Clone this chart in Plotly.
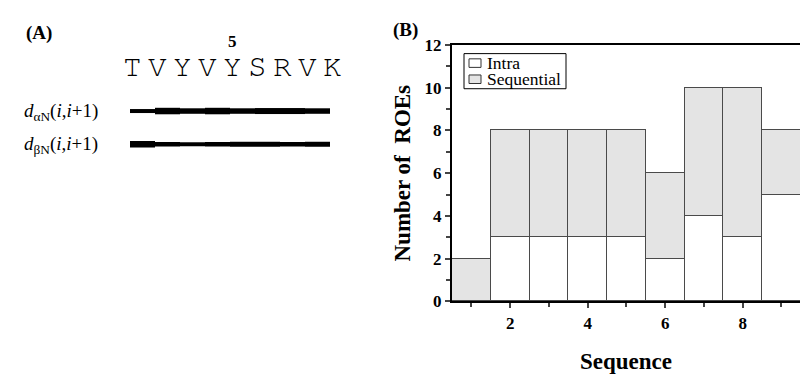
import plotly.graph_objects as go

# ---------------- data ----------------
# Panel A: peptide sequence and sequential NOE intensities (line thickness, px)
residues = ["T", "V", "Y", "V", "Y", "S", "R", "V", "K"]
numbered_residue = 5
d_alphaN = [4, 6.5, 5.5, 6.5, 5.5, 6, 6, 5.5]   # d_aN(i,i+1) for pairs 1-2 ... 8-9
d_betaN = [6.5, 4.5, 4, 4.5, 5, 5, 4.5, 5]      # d_bN(i,i+1)

# Panel B: number of ROEs per residue
sequence = [1, 2, 3, 4, 5, 6, 7, 8, 9]
intra = [0, 3, 3, 3, 3, 2, 4, 3, 5]
sequential = [2, 5, 5, 5, 5, 4, 6, 7, 3]
series_names = ["Intra", "Sequential"]

# ---------------- style / layout constants ----------------
W, H = 800, 374
SERIF = "Liberation Serif"
MONO = "FreeMono"
GREY = "#e4e4e4"
EDGE = "#4a4a4a"
FILLS = ["white", GREY]
ROW_NUM, ROW_SEQ, ROW_AN, ROW_BN = 34, 61, 107.5, 142.5

fig = go.Figure()

# ---- Panel B bars ----
for name, vals, fill in zip(series_names, (intra, sequential), FILLS):
    fig.add_trace(go.Bar(x=sequence, y=vals, name=name,
                         marker=dict(color=fill, line=dict(color=EDGE, width=1)),
                         xaxis="x", yaxis="y", showlegend=False))

# ---- Panel A: sequence letters ----
res_idx = list(range(1, len(residues) + 1))
for r, letter in zip(res_idx, residues):
    fig.add_annotation(text=letter, x=r, y=ROW_SEQ, xref="x2", yref="y2",
                       xanchor="center", yanchor="middle", showarrow=False,
                       font=dict(family=MONO, size=31, color="black"))
fig.add_annotation(text="<b>%d</b>" % numbered_residue, x=numbered_residue, y=ROW_NUM,
                   xref="x2", yref="y2", xanchor="center", yanchor="middle", showarrow=False,
                   font=dict(family=SERIF, size=17, color="black"))

# ---- Panel A: NOE bars ----
for row, widths in ((ROW_AN, d_alphaN), (ROW_BN, d_betaN)):
    for i, w in enumerate(widths):
        fig.add_trace(go.Scatter(x=[res_idx[i] - 0.08, res_idx[i + 1] - 0.08], y=[row, row],
                                 mode="lines", line=dict(color="black", width=w),
                                 xaxis="x2", yaxis="y2", showlegend=False, hoverinfo="skip"))

x0 = 452 / W
fig.update_layout(
    width=W, height=H,
    margin=dict(l=0, r=0, t=0, b=0),
    paper_bgcolor="white", plot_bgcolor="rgba(0,0,0,0)",
    barmode="stack", bargap=0,
    font=dict(family=SERIF, color="black"),
    showlegend=False,
    xaxis=dict(domain=[x0, 1.0], range=[0.5, 9.48], anchor="y",
               tickvals=[2, 4, 6, 8], ticks="outside", ticklen=5, tickwidth=1.5,
               minor=dict(tickvals=[1, 3, 5, 7, 9], ticks="outside", ticklen=4, tickwidth=1.5),
               showline=True, linecolor="black", linewidth=2, mirror=True,
               showgrid=False, zeroline=False,
               tickfont=dict(family=SERIF, size=17, weight="bold"),
               title=dict(text="Sequence", standoff=22,
                          font=dict(family=SERIF, size=23, weight="bold"))),
    yaxis=dict(domain=[1 - 308 / H, 1 - 38 / H], range=[0, 12], anchor="x",
               tickvals=[0, 2, 4, 6, 8, 10, 12], ticks="outside", ticklen=5, tickwidth=1.5,
               minor=dict(tickvals=[1, 3, 5, 7, 9, 11], ticks="outside", ticklen=4, tickwidth=1.5),
               showline=True, linecolor="black", linewidth=2,
               showgrid=False, zeroline=False,
               tickfont=dict(family=SERIF, size=17, weight="bold"),
               title=dict(text="Number of  ROEs", standoff=8,
                          font=dict(family=SERIF, size=23, weight="bold"))),
    xaxis2=dict(domain=[0, x0], range=[1 - 132 / 25, 1 + (452 - 132) / 25], anchor="y2",
                visible=False),
    yaxis2=dict(domain=[0, 1], range=[H, 0], anchor="x2", visible=False),
)

# ---- panel labels ----
for text, px, py in (("<b>(A)</b>", 39, 25), ("<b>(B)</b>", 405, 22)):
    fig.add_annotation(text=text, x=px / W, y=1 - py / H, xref="paper", yref="paper",
                       xanchor="center", yanchor="middle", showarrow=False,
                       font=dict(family=SERIF, size=19, color="black"))

# ---- row labels of panel A ----
for lab, row in (("<i>d</i><sub>αN</sub>(<i>i</i>,<i>i</i>+1)", ROW_AN),
                 ("<i>d</i><sub>βN</sub>(<i>i</i>,<i>i</i>+1)", ROW_BN)):
    fig.add_annotation(text=lab, x=22 / W, y=1 - (row + 0.5) / H, xref="paper", yref="paper",
                       xanchor="left", yanchor="middle", showarrow=False,
                       font=dict(family=SERIF, size=19, color="black"))

# ---- legend box (drawn manually to match the compact original) ----
LEG_L, LEG_T, LEG_R, LEG_B = 464, 47, 566, 84
fig.add_shape(type="rect", xref="paper", yref="paper",
              x0=LEG_L / W, x1=LEG_R / W, y0=1 - LEG_B / H, y1=1 - LEG_T / H,
              line=dict(color="black", width=1), fillcolor="white", layer="above")
for k, (name, fill) in enumerate(zip(series_names, FILLS)):
    cy = 57 + k * 17
    fig.add_shape(type="rect", xref="paper", yref="paper",
                  x0=469 / W, x1=481 / W, y0=1 - (cy + 4.5) / H, y1=1 - (cy - 4.5) / H,
                  line=dict(color="#333333", width=1), fillcolor=fill, layer="above")
    fig.add_annotation(text=name, x=485 / W, y=1 - cy / H, xref="paper", yref="paper",
                       xanchor="left", yanchor="middle", showarrow=False,
                       font=dict(family=SERIF, size=17.5, color="black"))

fig.write_html("out.html")
